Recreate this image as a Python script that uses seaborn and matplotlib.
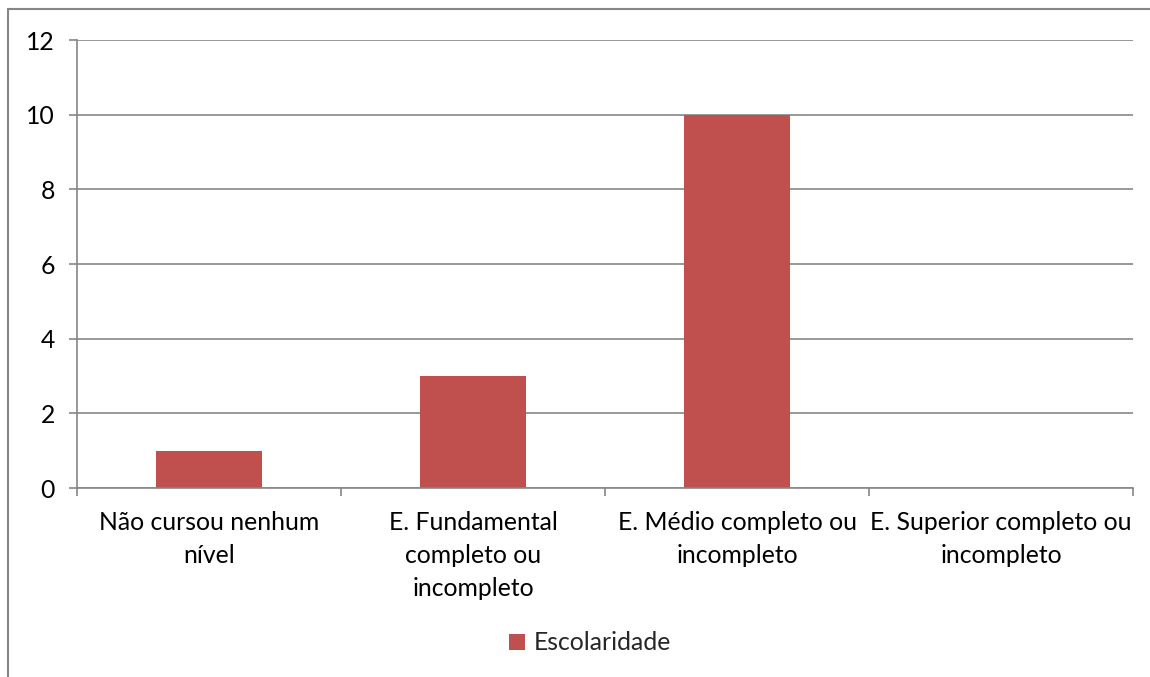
import matplotlib
matplotlib.use("Agg")
import matplotlib.pyplot as plt
import seaborn as sns
import pandas as pd
from matplotlib.lines import Line2D
from matplotlib.patches import Patch

categories = ["Não cursou nenhum\nnível",
              "E. Fundamental\ncompleto ou\nincompleto",
              "E. Médio completo ou\nincompleto",
              "E. Superior completo ou\nincompleto"]
values = [1, 3, 10, 0]
series_name = "Escolaridade"
yticks = [0, 2, 4, 6, 8, 10, 12]

sns.set_theme(style="white")
plt.rcParams['font.family'] = ['Lato', 'DejaVu Sans']

W, H = 1150, 677
FS = 17.8
fig = plt.figure(figsize=(W/100, H/100), dpi=100)
ax = fig.add_axes([77/W, 1-488/H, (1133-77)/W, (488-40)/H])

df = pd.DataFrame({"cat": categories, "val": values})
grey = "#868686"
sns.barplot(data=df, x="cat", y="val", color="#C0504D", width=0.4,
            saturation=1, linewidth=0, ax=ax, zorder=3)

ax.set_xlim(-0.5, 3.5)
ax.set_ylim(0, 12)
ax.set_yticks(yticks)
ax.set_xlabel("")
ax.set_ylabel("")
ax.yaxis.grid(True, color=grey, linewidth=1.2)
ax.set_axisbelow(True)
for s in ["top", "right"]:
    ax.spines[s].set_visible(False)
for s in ["left", "bottom"]:
    ax.spines[s].set_color(grey)
    ax.spines[s].set_linewidth(1.2)
    ax.spines[s].set_zorder(4)

ax.set_xticks([-0.5, 0.5, 1.5, 2.5, 3.5], minor=True)
ax.tick_params(axis="x", which="major", length=0, pad=16.5, labelsize=FS, colors="black")
ax.tick_params(axis="x", which="minor", length=6, width=1.2, color=grey, direction="out", bottom=True)
ax.tick_params(axis="y", which="major", length=6, width=1.2, color=grey, direction="out",
               left=True, pad=10, labelsize=FS, labelcolor="black")
for lbl in ax.get_xticklabels():
    lbl.set_linespacing(1.52)

handle = Patch(facecolor="#C0504D", edgecolor="none")
fig.legend(handles=[handle], labels=[series_name], loc="center",
           bbox_to_anchor=(590/W, 1-643/H), frameon=False, fontsize=FS,
           handlelength=0.65, handleheight=0.65, handletextpad=0.35)

fig.add_artist(Line2D([8/W, 1], [1-9/H, 1-9/H], color=grey, linewidth=1.5, transform=fig.transFigure))
fig.add_artist(Line2D([8/W, 8/W], [0, 1-9/H], color=grey, linewidth=1.5, transform=fig.transFigure))

fig.savefig("out.png", dpi=100, facecolor="white")
